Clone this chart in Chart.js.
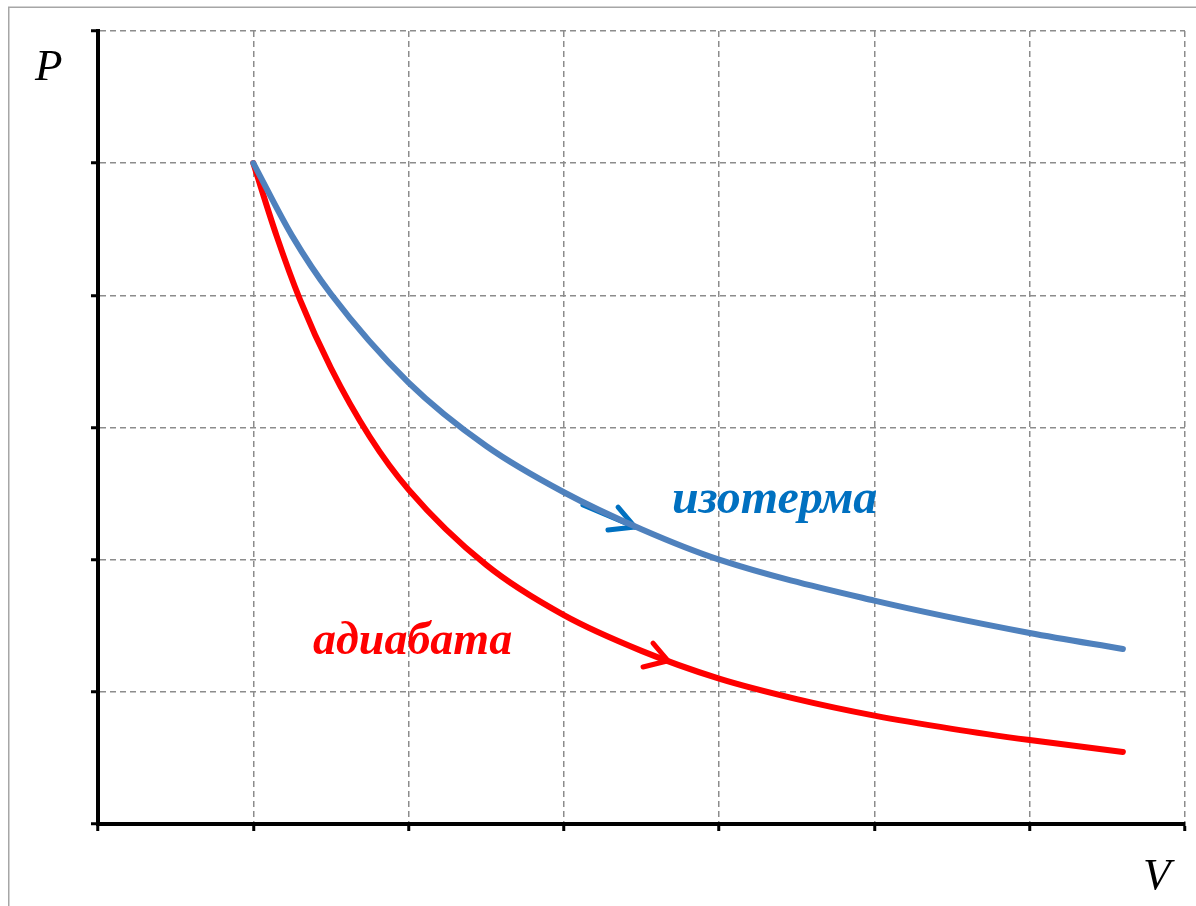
<!DOCTYPE html>
<html>
<head>
<meta charset="utf-8">
<script src="https://cdn.jsdelivr.net/npm/chart.js@4"></script>
<style>
html,body{margin:0;padding:0;background:#fff;}
#wrap{width:1196px;height:906px;}
</style>
</head>
<body>
<div id="wrap"><canvas id="c" width="1196" height="906"></canvas></div>
<script>
// ---- data ----
const xTicks = [0, 1, 2, 3, 4, 5, 6, 7];
const yTicks = [0, 1, 2, 3, 4, 5, 6];

const isoV = [1.0, 1.25, 1.5, 2.0, 2.5, 3.0, 3.5, 4.0, 5.0, 6.0, 6.6];
const isoP = [5.0, 4.45, 4.01, 3.34, 2.86, 2.51, 2.23, 2.00, 1.69, 1.445, 1.324];

const adiV = [1.0, 1.15, 1.3, 1.5, 1.75, 2.0, 2.5, 3.0, 3.5, 4.0, 4.5, 5.0, 5.5, 6.0, 6.6];
const adiP = [5.0, 4.45, 3.97, 3.45, 2.93, 2.53, 1.96, 1.58, 1.31, 1.10, 0.945, 0.82, 0.72, 0.635, 0.545];

const isoArrowShaftV = [3.123, 3.458];
const isoArrowShaftP = [2.414, 2.247];
const isoArrowHeadV = [3.349, 3.458, 3.284];
const isoArrowHeadP = [2.398, 2.247, 2.224];

const adiArrowHeadV = [3.574, 3.671, 3.510];
const adiArrowHeadP = [1.369, 1.235, 1.188];

const labelIso = 'изотерма';
const labelAdi = 'адиабата';
const axisLabelP = 'P';
const axisLabelV = 'V';

const pts = (xs, ys) => xs.map((x, i) => ({x: x, y: ys[i]}));

const frame = {
  id: 'frame',
  beforeDraw(chart) {
    const ctx = chart.ctx;
    ctx.save();
    ctx.fillStyle = '#fff';
    ctx.fillRect(0, 0, chart.width, chart.height);
    ctx.strokeStyle = '#a6a6a6';
    ctx.lineWidth = 1.5;
    ctx.beginPath();
    ctx.moveTo(8.75, chart.height + 5);
    ctx.lineTo(8.75, 7.25);
    ctx.lineTo(chart.width + 5, 7.25);
    ctx.stroke();
    ctx.restore();
  }
};

const texts = {
  id: 'texts',
  afterDraw(chart) {
    const ctx = chart.ctx;
    ctx.save();
    ctx.textBaseline = 'alphabetic';
    ctx.textAlign = 'left';
    ctx.font = 'bold italic 48px "Liberation Serif", "DejaVu Serif", serif';
    ctx.fillStyle = '#0070C0';
    ctx.fillText(labelIso, 672, 513);
    ctx.font = 'bold italic 46px "Liberation Serif", "DejaVu Serif", serif';
    ctx.fillStyle = '#FF0000';
    ctx.fillText(labelAdi, 313, 654);
    ctx.font = 'italic 45px "Liberation Serif", "DejaVu Serif", serif';
    ctx.fillStyle = '#000';
    ctx.fillText(axisLabelP, 35, 80);
    ctx.fillText(axisLabelV, 1143, 889);
    ctx.restore();
  }
};

const gridOpts = {
  color: '#8c8c8c',
  lineWidth: 1.5,
  drawTicks: true,
  tickLength: 7,
  tickColor: '#000',
  tickWidth: 3,
  tickBorderDash: []
};
const borderOpts = { display: true, color: '#000', width: 4, dash: [6, 4] };

new Chart(document.getElementById('c'), {
  type: 'line',
  data: {
    datasets: [
      { data: pts(isoV, isoP), borderColor: '#4F81BD', borderWidth: 6, pointRadius: 0, cubicInterpolationMode: 'monotone', borderCapStyle: 'round', borderJoinStyle: 'round', fill: false },
      { data: pts(adiV, adiP), borderColor: '#FF0000', borderWidth: 6, pointRadius: 0, cubicInterpolationMode: 'monotone', borderCapStyle: 'round', borderJoinStyle: 'round', fill: false },
      { data: pts(isoArrowShaftV, isoArrowShaftP), borderColor: '#0070C0', borderWidth: 5, pointRadius: 0, tension: 0, borderCapStyle: 'round', fill: false },
      { data: pts(isoArrowHeadV, isoArrowHeadP), borderColor: '#0070C0', borderWidth: 5, pointRadius: 0, tension: 0, borderCapStyle: 'round', borderJoinStyle: 'round', fill: false },
      { data: pts(adiArrowHeadV, adiArrowHeadP), borderColor: '#FF0000', borderWidth: 5, pointRadius: 0, tension: 0, borderCapStyle: 'round', borderJoinStyle: 'round', fill: false }
    ]
  },
  options: {
    responsive: false,
    animation: false,
    devicePixelRatio: 1,
    layout: { padding: { left: 0, top: 31, right: 11, bottom: 0 } },
    plugins: { legend: { display: false }, tooltip: { enabled: false } },
    scales: {
      x: {
        type: 'linear',
        min: xTicks[0], max: xTicks[xTicks.length - 1],
        afterBuildTicks: (s) => { s.ticks = xTicks.map(v => ({value: v})); },
        afterFit: (s) => { s.height = 82; },
        ticks: { display: false },
        grid: gridOpts,
        border: borderOpts
      },
      y: {
        type: 'linear',
        min: yTicks[0], max: yTicks[yTicks.length - 1],
        afterBuildTicks: (s) => { s.ticks = yTicks.map(v => ({value: v})); },
        afterFit: (s) => { s.width = 98; },
        ticks: { display: false },
        grid: gridOpts,
        border: borderOpts
      }
    }
  },
  plugins: [frame, texts]
});
</script>
</body>
</html>
